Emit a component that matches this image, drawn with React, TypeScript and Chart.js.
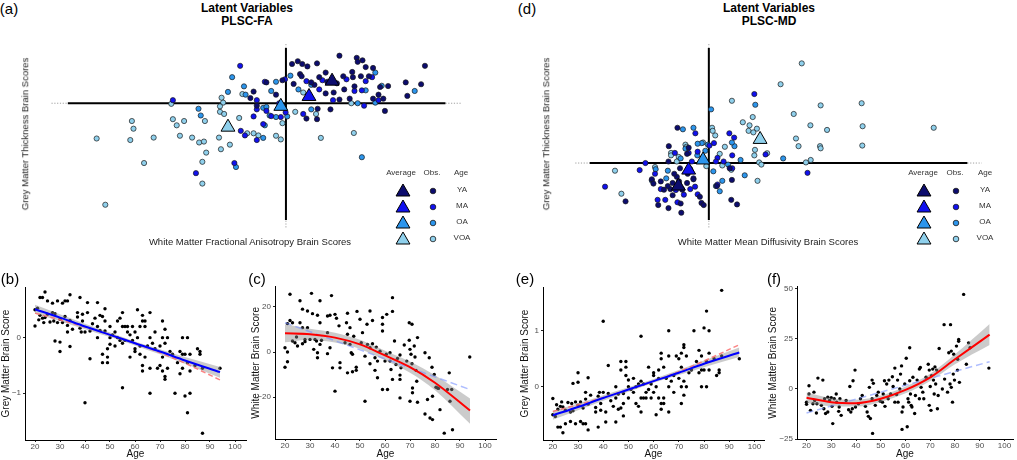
import React, { useEffect, useRef } from "react";
import { Chart, registerables } from "chart.js";

Chart.register(...registerables);

type P = [number, number];
const FONT = "'Liberation Sans', Arial, Helvetica, sans-serif";

const groupNames = ["YA", "MA", "OA", "VOA"];
const groupColors = ["#0c0c6e", "#1111ee", "#2c95ec", "#8fd0ec"];

// ---------- Panel (a): PLSC-FA latent variables ----------
const faYA: P[] = [[1.67,1.55],[2.21,1.48],[2.39,1.40],[2.24,1.35],[4.34,1.22],[0.97,1.30],[0.19,1.28],[0.37,1.37],[0.51,1.28],[0.67,1.20],[2.07,1.02],[1.79,0.88],[2.09,0.85],[2.34,0.88],[2.59,0.88],[2.72,1.15],[2.49,1.18],[0.44,0.95],[0.49,0.88],[1.24,1.00],[1.04,0.85],[1.29,0.70],[0.89,0.60],[0.79,0.68],[0.24,0.63],[1.59,0.65],[1.82,0.45],[2.14,0.55],[2.94,0.53],[3.19,0.56],[3.74,0.68],[4.22,0.62],[3.79,0.24],[2.89,0.28],[2.72,0.15],[3.04,0.15],[3.09,-0.25],[1.39,-0.20],[0.99,-0.18],[0.97,-0.52],[-0.61,0.68],[-1.01,0.38],[-1.11,0.17],[-0.91,-0.08],[-0.11,0.75],[-0.31,0.28],[1.24,0.32],[1.49,0.35],[1.67,0.12],[1.99,0.15],[0.64,-0.50]];
const faMA: P[] = [[-1.43,1.22],[-3.53,0.10],[-0.03,0.78],[-0.66,0.70],[0.64,0.72],[1.14,0.75],[2.49,0.72],[1.89,0.78],[2.37,0.42],[2.14,0.40],[-0.91,-0.20],[-0.91,0.10],[-0.61,-0.25],[-0.21,0.00],[-0.46,-0.42],[-1.01,-0.43],[-0.71,-0.68],[-1.41,-0.90],[-1.28,-1.05],[-0.91,-1.20],[-2.81,-2.28],[-1.61,-1.95],[-0.16,-0.45],[-0.01,-0.30],[0.54,-0.35],[2.44,-0.08],[2.89,0.10],[1.04,0.45],[2.69,0.85],[1.47,0.10]];
const faOA: P[] = [[-1.68,0.85],[-1.81,0.37],[-1.31,0.55],[-1.26,0.28],[-0.31,0.70],[-0.46,0.40],[0.14,0.90],[0.39,0.45],[0.79,0.60],[2.79,1.00],[2.99,0.57],[4.02,0.40],[2.49,0.42],[2.79,0.02],[2.24,0.00],[-0.71,-0.15],[-0.51,-0.40],[-0.31,-0.45],[0.04,-0.43],[-0.66,-0.72],[-0.71,-1.13],[0.79,-0.20],[2.37,-1.76],[-2.73,-0.18],[-2.66,-0.40],[-1.56,-2.08],[-0.61,-0.12]];
const faVOA: P[] = [[-3.58,-0.02],[-2.01,0.18],[-1.96,0.02],[-2.06,-0.28],[-1.93,-0.35],[-3.53,-0.52],[-3.18,-0.58],[-3.41,-0.72],[-2.53,-0.58],[-4.81,-0.58],[-4.76,-0.83],[-5.91,-1.15],[-4.86,-1.20],[-4.13,-1.12],[-3.31,-1.06],[-2.93,-1.12],[-2.71,-1.28],[-2.56,-1.25],[-2.09,-1.12],[-1.75,-1.35],[-2.03,-1.50],[-2.49,-1.61],[-2.61,-1.91],[-4.43,-1.95],[-2.61,-2.62],[-5.64,-3.31],[-1.46,-0.48],[-1.21,-0.98],[-1.01,-0.98],[-0.86,-1.05],[-0.31,-1.06],[-0.16,-1.18],[1.09,-1.13],[2.12,-0.97],[0.29,-0.28],[0.54,0.35],[0.94,-0.35],[2.04,0.00],[-0.11,-0.65],[-1.36,0.30],[-2.06,-0.10]];
const faAvg: P[] = [[1.44,0.72],[0.72,0.22],[-0.16,-0.10],[-1.81,-0.78]];
const faAxisX = [-6.81, 4.98];
const faAxisXDot = [-7.32, 5.49];
const faAxisY = [-3.81, 1.80];
const faAxisYDot = [-4.05, 1.98];

// ---------- Panel (d): PLSC-MD latent variables ----------
const mdYA: P[] = [[-0.98,1.15],[-1.25,0.55],[-0.68,0.30],[-1.26,0.05],[-0.90,-0.17],[-0.66,-0.35],[-0.48,-0.53],[-1.78,-0.53],[-1.73,-0.67],[-1.50,-0.60],[-1.13,-0.65],[-1.00,-0.45],[-1.20,-0.85],[-1.28,-0.75],[-0.83,-0.87],[-1.40,-0.87],[-1.13,-1.05],[-1.58,-1.37],[-1.26,-1.47],[-0.88,-1.32],[-0.86,-1.62],[-2.60,-1.25],[-0.23,-1.30],[-0.16,-1.37],[0.70,-1.20],[0.88,-1.35],[0.72,-0.55],[0.25,-0.75],[0.65,-0.17],[-0.28,-1.10],[-0.68,-0.65],[-0.63,0.50],[-0.93,-0.60],[-1.08,-0.35]];
const mdMA: P[] = [[1.42,2.25],[-0.42,0.97],[-0.63,0.33],[-0.35,0.37],[0.16,0.65],[0.64,0.97],[0.79,0.83],[0.46,0.05],[0.27,0.17],[0.73,0.25],[-1.06,0.33],[-0.53,0.05],[-1.68,-0.35],[-1.98,0.00],[-2.16,-0.23],[-3.24,-0.77],[-1.50,-0.85],[-1.03,-0.88],[-0.78,-1.03],[-0.48,-0.50],[-0.58,-0.85],[-1.60,-1.20],[-1.36,-1.20],[-0.98,-1.28],[3.08,-0.32],[1.77,0.28],[0.02,0.57],[0.22,0.05],[-0.43,-0.77],[-0.35,-1.02],[0.27,-0.70],[0.73,-0.17]];
const mdOA: P[] = [[0.07,1.75],[-0.81,1.10],[-0.48,1.15],[-0.22,0.65],[-0.35,0.63],[-0.11,0.40],[-0.73,0.47],[-0.88,0.15],[-1.28,-0.25],[-1.66,-0.20],[-1.78,-0.57],[-1.33,-0.50],[0.14,-0.27],[0.80,0.55],[0.72,0.67],[0.99,0.10],[1.12,-0.40],[0.34,-0.92],[0.22,-0.75],[0.42,-0.58],[1.45,1.90],[2.32,0.15],[0.60,-0.05],[-0.58,-0.20],[-0.36,0.25],[-0.03,0.60]];
const mdVOA: P[] = [[2.90,3.25],[2.24,2.57],[0.72,2.03],[3.49,1.88],[4.77,1.95],[2.65,1.60],[3.17,1.23],[3.69,1.08],[4.80,1.20],[7.02,1.15],[1.06,1.33],[1.27,1.23],[1.37,1.50],[1.50,1.12],[1.24,1.05],[1.39,1.00],[2.72,0.80],[2.80,0.55],[3.47,0.55],[3.49,0.48],[4.79,0.57],[3.18,0.10],[3.03,0.02],[1.57,0.02],[1.64,-0.05],[1.52,-0.58],[1.42,0.25],[1.44,0.43],[1.82,0.32],[0.10,1.15],[0.20,0.90],[0.12,1.05],[0.50,0.53],[0.34,0.30],[-0.18,0.67],[-0.73,0.60],[-0.70,0.53],[-1.18,0.33],[-1.18,0.25],[-0.94,0.20],[-1.00,0.05],[-1.68,-0.13],[-2.93,-0.25],[-2.73,-1.00],[-0.08,-0.10],[0.42,-0.08],[0.70,-0.22]];
const mdAvg: P[] = [[-0.95,-0.75],[-0.63,-0.23],[-0.18,0.10],[1.60,0.77]];
const mdAxisX = [-3.72, 8.07];
const mdAxisXDot = [-4.17, 8.52];
const mdAxisY = [-1.86, 3.75];
const mdAxisYDot = [-2.10, 3.93];

// ---------- Bottom panels: brain scores by age ----------
const ageTicks = [20, 30, 40, 50, 60, 70, 80, 90, 100];
const fitAges = [20, 30, 40, 50, 60, 70, 80, 94];
const linAges = [20, 94];

// (b) grey matter score, PLSC-FA
const gmFA: P[] = [[20,0.5],[20,0.21],[21,0.53],[21.5,0.32],[22,0.72],[22,0.4],[23,0.72],[23,0.35],[23.5,0.27],[24,0.82],[24,0.36],[25,0.66],[25,0.42],[26,0.28],[27,0.62],[27,0.45],[27.5,0.3],[28,-0.06],[28,0.43],[29,0.66],[29,0.27],[30,0.33],[30,-0.08],[30,-0.25],[31,0.62],[31,0.27],[32,0.66],[32,0.38],[33,0.66],[33,0.22],[33,0.1],[34,0.77],[34,0.31],[34,-0.16],[35,0.15],[37,0.45],[37,0.37],[38,0.72],[38,0.17],[38.5,0.1],[39,0.3],[39,0.42],[40,0.1],[40,-1.17],[41,0.63],[41,0.45],[42,0.12],[42,-0.38],[43,0.25],[44,0.35],[45,0.63],[45,0.2],[45,0.0],[46,0.4],[46,0.13],[47,0.38],[47,-0.3],[47,-0.45],[48,0.52],[48,0.3],[48,0.12],[49,-0.2],[49,-0.35],[49,-0.45],[50,0.0],[50,0.2],[50,-0.12],[51,0.05],[52,0.1],[52,-0.15],[53,0.3],[53,0.0],[54,0.35],[54,-0.05],[55,0.45],[55,0.2],[55,-0.1],[55,-0.9],[56,0.2],[56,-0.05],[57,0.2],[57,0.1],[58,0.05],[58,-0.35],[59,0.2],[59,-0.05],[60,0.1],[60,-0.2],[60,-0.25],[61,0.5],[61,0.0],[62,0.2],[62,-0.15],[62,-0.3],[63,0.4],[63,0.3],[63,-0.5],[63,-0.6],[64,0.3],[64,0.2],[64,-0.35],[65,-0.15],[66,0.45],[66,-0.55],[66,-1.0],[66,0.0],[67,-0.1],[68,0.1],[68,-0.2],[69,-0.55],[70,-0.15],[70,-0.5],[71,0.3],[71,0.0],[71,-0.35],[71,-0.6],[72,0.15],[72,-0.1],[72,-0.7],[72,-0.75],[73,0.0],[73,-0.55],[74,-0.25],[75,-0.3],[76,-1.0],[77,-0.45],[78,-0.25],[78,-0.65],[79,0.0],[79,-0.3],[79,-0.55],[80,-1.05],[80,-0.3],[81,0.0],[81,-1.35],[81,-0.45],[82,-0.3],[82,-0.6],[82,-1.0],[84,-0.5],[85,-0.2],[86,-0.25],[86,-0.3],[87,-1.72],[87,-0.55],[94,-0.55]];
const gmFALinear = [0.51, 0.36, 0.20, 0.05, -0.10, -0.25, -0.41, -0.62];
const gmFAQuad = [0.44, 0.32, 0.19, 0.05, -0.10, -0.27, -0.46, -0.76];
const gmFABandHi = [0.59, 0.42, 0.25, 0.09, -0.07, -0.21, -0.35, -0.53];
const gmFABandLo = [0.43, 0.30, 0.15, 0.01, -0.14, -0.30, -0.47, -0.72];

// (c) white matter score, PLSC-FA
const wmFA: P[] = [[20,1.9],[20,-6.7],[21,0],[21,-4.3],[21,12.6],[22,25.6],[22,14],[23,13],[23,4.9],[24,4.1],[24.6,6.7],[25,2.7],[26,22.7],[26,13],[27,19],[27,10.8],[27,3.7],[28,4.6],[28,5.6],[29,18.2],[29,10.8],[30,5.6],[30.6,26],[31,17],[31.5,1.2],[32,5.6],[32.6,4.9],[33,-0.3],[33,-2.5],[33,16.3],[34,22.7],[34,13],[34,3.4],[34.6,5.2],[37,16],[37,-0.7],[37,8.6],[38,16.3],[38,1.9],[38.6,25],[39,-7],[40,16.7],[40,-17.3],[40.6,15],[41.6,11.6],[42,-4.7],[42,-7],[44,4.1],[44.6,13],[45,-9.2],[45,17.2],[45,7.9],[46,10.8],[46,3.4],[46.5,-0.3],[47,-8.7],[47,-1],[47.5,7],[48.5,-6.7],[48.5,-8.1],[48.8,18],[50,14.5],[50.5,4.1],[51,8.6],[52,-1.8],[52,-21.8],[52.8,12.3],[53,3.4],[54,18.2],[54,1.9],[54,-5.2],[55,14],[55,3.7],[56,-2.5],[56,-8.1],[56.5,2.2],[57,-11.4],[57,-4],[58,0.4],[59,9.3],[59,12.3],[59,15.3],[59,-16.6],[60,-4],[60.5,-1],[60.7,16.7],[61,-16.6],[62,-0.3],[62,-4],[62.4,-7.7],[63,18],[63,24.1],[63,-12.1],[63.8,4.9],[64.4,-5.5],[65,-2.8],[66,-1.3],[66,-10.2],[66,-12.1],[66,-20.3],[66.4,-7],[67.7,3.1],[68.7,-4],[69.7,13],[69.7,5.2],[70,1.2],[70,-21.8],[70.4,-1],[70.8,12.3],[70.8,-5.2],[71,-15.9],[71,-18],[71.7,2.7],[72,-2.2],[72.4,-8.1],[72.7,-12.9],[73,6.4],[73,-22.2],[76,-0.3],[76,-27.4],[77,-21],[77.7,-2.5],[78,-29.2],[78.8,-6.7],[79,-29.9],[79,-19.6],[79.7,-9.9],[80.4,-15.6],[81,-15.9],[81.4,-16.1],[82,-25.5],[83.7,-35.9],[85,-16.6],[85.7,-9.2],[86,-21.8],[86.7,-16.6],[87,-34.4],[93.9,-2.2]];
const wmFAQuad = [8.3, 7.9, 6.4, 3.4, -1.5, -6.7, -13.6, -25.9];
const wmFABandHi = [12.3, 10.3, 8.6, 5.4, 0.6, -4.2, -10.3, -20.6];
const wmFABandLo = [4.3, 5.5, 4.2, 1.4, -3.6, -9.2, -16.9, -31.8];
const wmFALinear = [13.0, -16.6];

// (e) grey matter score, PLSC-MD
const gmMD: P[] = [[20,-0.5],[20,-0.21],[21,-0.53],[21.5,-0.32],[22,-0.72],[22,-0.4],[23,-0.72],[23,-0.35],[23.5,-0.27],[24,-0.82],[24,-0.36],[25,-0.66],[25,-0.42],[26,-0.28],[27,-0.62],[27,-0.45],[27.5,-0.3],[28,0.06],[28,-0.43],[29,-0.66],[29,-0.27],[30,-0.33],[30,0.08],[30,0.25],[31,-0.62],[31,-0.27],[32,-0.66],[32,-0.38],[33,-0.66],[33,-0.22],[33,-0.1],[34,-0.77],[34,-0.31],[34,0.16],[35,-0.15],[37,-0.45],[37,-0.37],[38,-0.72],[38,-0.17],[38.5,-0.1],[39,-0.3],[39,-0.42],[40,-0.1],[40,1.17],[41,-0.63],[41,-0.45],[42,-0.12],[42,0.38],[43,-0.25],[44,-0.35],[45,-0.63],[45,-0.2],[45,0.0],[46,-0.4],[46,-0.13],[47,-0.38],[47,0.3],[47,0.45],[48,-0.52],[48,-0.3],[48,-0.12],[49,0.2],[49,0.35],[49,0.45],[50,0.0],[50,-0.2],[50,0.12],[51,-0.05],[52,-0.1],[52,0.15],[53,-0.3],[53,0.0],[54,-0.35],[54,0.05],[55,-0.45],[55,-0.2],[55,0.1],[55,0.9],[56,-0.2],[56,0.05],[57,-0.2],[57,-0.1],[58,-0.05],[58,0.35],[59,-0.2],[59,0.05],[60,-0.1],[60,0.2],[60,0.25],[61,-0.5],[61,0.0],[62,-0.2],[62,0.15],[62,0.3],[63,-0.4],[63,-0.3],[63,0.5],[63,0.6],[64,-0.3],[64,-0.2],[64,0.35],[65,0.15],[66,-0.45],[66,0.55],[66,1.0],[66,0.0],[67,0.1],[68,-0.1],[68,0.2],[69,0.55],[70,0.15],[70,0.5],[71,-0.3],[71,0.0],[71,0.35],[71,0.6],[72,-0.15],[72,0.1],[72,0.7],[72,0.75],[73,0.0],[73,0.55],[74,0.25],[75,0.3],[76,1.0],[77,0.45],[78,0.25],[78,0.65],[79,0.0],[79,0.3],[79,0.55],[80,1.05],[80,0.3],[81,0.0],[81,1.35],[81,0.45],[82,0.3],[82,0.6],[82,1.0],[84,0.5],[85,0.2],[86,0.25],[86,0.3],[87,1.72],[87,0.55],[94,0.5]];
const gmMDLinear = [-0.51, -0.36, -0.20, -0.05, 0.10, 0.25, 0.41, 0.61];
const gmMDQuad = [-0.44, -0.32, -0.19, -0.05, 0.10, 0.27, 0.46, 0.75];
const gmMDBandHi = [-0.43, -0.30, -0.15, -0.01, 0.14, 0.30, 0.47, 0.70];
const gmMDBandLo = [-0.59, -0.42, -0.25, -0.09, 0.07, 0.21, 0.35, 0.53];

// (f) white matter score, PLSC-MD
const wmMD: P[] = [[20,-6.6],[20,-7.7],[21,1.6],[21,-2.5],[21.6,-10.7],[22.6,-7.4],[23,-1.6],[23.3,-5.8],[24,-12],[24.2,-7.4],[24.6,5.4],[26,-8.2],[26.6,4.4],[27,-9.9],[27.3,-4.9],[27.7,-12.3],[28.6,-4.1],[28.6,-11.5],[29.3,-5.8],[30,-4.4],[30.3,-8.7],[30.6,-17.3],[31.2,-4.9],[32,-2.5],[32.2,-6.6],[33,-11.2],[33.2,-9],[33.5,-4.9],[34,-13.2],[36,-5.8],[37,-10.4],[37.5,1.2],[37.9,-11.5],[38.5,-9.9],[38.8,4.1],[39.6,9.4],[39.8,-9],[41,-7.4],[41.8,-4.9],[42.5,-3.3],[43.8,-8.7],[44.5,-11.5],[45,-13.7],[45.4,0.8],[45.8,-14.8],[46.5,4.4],[46.5,-4.9],[46.7,-22.2],[47,2.8],[47.8,-8.2],[48.4,-3.3],[49,-1.6],[49.8,-6.1],[50.7,-6.6],[51,-2.5],[51.5,4.1],[51.7,-8.7],[52.4,2.5],[53,-4.9],[53.3,4.4],[54,-2.5],[54.7,6.1],[55,1.2],[55.7,10.4],[55.7,-6.6],[56.4,-2.8],[56.8,4.4],[57,-6.6],[57.7,0],[58,7.4],[58.4,11.5],[58.6,-11.5],[58.6,-20.2],[59,-9],[59.7,2.5],[60.3,15.3],[60.7,-18.9],[61,-4.9],[61.3,-6.6],[61.7,20.6],[61.7,4.1],[62,-2.5],[62.3,-8.2],[62.6,-9],[63,5.8],[63.7,-12.3],[64,-3.3],[64.7,4.4],[65.6,9.9],[65.6,-4.9],[66,10.7],[66.3,0.8],[67,-1.6],[67.4,-4.9],[68.3,5.8],[69.2,12.3],[69.6,9.4],[69.6,-8.2],[70,1.2],[70.3,-10.7],[70.5,6.6],[71,9.9],[71.3,4.4],[71.6,-2.5],[71.9,11],[72.2,2.5],[72.6,9.4],[72.9,-9.9],[73.2,-3.3],[73.6,20.2],[74.9,0],[75.6,32.1],[75.8,4.9],[77,-1.6],[77.5,18.1],[78,2.5],[78.2,32.1],[78.5,18.9],[78.5,0.8],[79,-6.6],[79.3,7.4],[79.5,17.3],[79.8,4.4],[80.6,21.4],[81,9.4],[81.1,14.8],[81.5,24.7],[81.5,23.8],[81.8,3.3],[83.5,47.2],[84.6,12.3],[85.5,23],[86.1,20.6],[93.7,10.4]];
const wmMDQuad = [-4.4, -6.6, -7.1, -4.9, -0.5, 5.8, 14.8, 27.1];
const wmMDBandHi = [-1.8, -4.6, -5.4, -3.3, 1.2, 7.6, 17.3, 32.4];
const wmMDBandLo = [-7.0, -8.6, -8.8, -6.5, -2.2, 4.0, 12.3, 21.9];
const wmMDLinear = [-12.0, 13.6];

const toXY = (xs: number[], ys: number[]) => xs.map((x, i) => ({ x, y: ys[i] }));
const ptsXY = (ps: P[]) => ps.map(([x, y]) => ({ x, y }));

function triPath(ctx: CanvasRenderingContext2D, x: number, y: number, r: number) {
  const s = Math.sin(Math.PI / 3) * r;
  ctx.beginPath();
  ctx.moveTo(x, y - r);
  ctx.lineTo(x + s, y + r / 2);
  ctx.lineTo(x - s, y + r / 2);
  ctx.closePath();
}

function quadrantChart(
  canvas: HTMLCanvasElement,
  groups: P[][],
  avgs: P[],
  range: number[],
  axX: number[], axXDot: number[], axY: number[], axYDot: number[],
  legend: { avgX: number; obsX: number; rows: number[] }
) {
  const quad = {
    id: "quad",
    beforeDatasetsDraw(chart: any) {
      const { ctx, scales } = chart;
      const xs = scales.x, ys = scales.y;
      const x0 = xs.getPixelForValue(0), y0 = ys.getPixelForValue(0);
      ctx.save();
      ctx.strokeStyle = "#a0a0a0";
      ctx.lineWidth = 1;
      ctx.setLineDash([1.2, 1.6]);
      ctx.beginPath();
      ctx.moveTo(xs.getPixelForValue(axXDot[0]), y0);
      ctx.lineTo(xs.getPixelForValue(axX[0]), y0);
      ctx.moveTo(xs.getPixelForValue(axX[1]), y0);
      ctx.lineTo(xs.getPixelForValue(axXDot[1]), y0);
      ctx.moveTo(x0, ys.getPixelForValue(axYDot[0]));
      ctx.lineTo(x0, ys.getPixelForValue(axY[0]));
      ctx.moveTo(x0, ys.getPixelForValue(axY[1]));
      ctx.lineTo(x0, ys.getPixelForValue(axYDot[1]));
      ctx.stroke();
      ctx.setLineDash([]);
      ctx.strokeStyle = "#000";
      ctx.lineWidth = 2;
      ctx.beginPath();
      ctx.moveTo(xs.getPixelForValue(axX[0]), y0);
      ctx.lineTo(xs.getPixelForValue(axX[1]), y0);
      ctx.moveTo(x0, ys.getPixelForValue(axY[0]));
      ctx.lineTo(x0, ys.getPixelForValue(axY[1]));
      ctx.stroke();
      ctx.restore();
    },
    afterDraw(chart: any) {
      const ctx: CanvasRenderingContext2D = chart.ctx;
      ctx.save();
      legend.rows.forEach((ry, i) => {
        triPath(ctx, legend.avgX, ry + 1, 8);
        ctx.fillStyle = groupColors[i];
        ctx.fill();
        ctx.strokeStyle = "#000";
        ctx.lineWidth = 1;
        ctx.stroke();
        ctx.beginPath();
        ctx.arc(legend.obsX, ry, 2.8, 0, Math.PI * 2);
        ctx.fillStyle = groupColors[i];
        ctx.fill();
        ctx.strokeStyle = "#1a1a1a";
        ctx.lineWidth = 0.8;
        ctx.stroke();
      });
      ctx.restore();
    },
  };
  const order = [1, 2, 3, 4];
  const datasets: any[] = groups.map((g, i) => ({
    label: groupNames[i],
    data: ptsXY(g),
    pointRadius: 2.6,
    pointBackgroundColor: groupColors[i],
    pointBorderColor: "#1a1a1a",
    pointBorderWidth: 0.7,
    order: order[i],
  }));
  datasets.push({
    label: "Average",
    data: ptsXY(avgs),
    pointStyle: "triangle",
    pointRadius: 8,
    pointBackgroundColor: groupColors,
    pointBorderColor: "#000",
    pointBorderWidth: 1,
    order: 0,
  });
  return new Chart(canvas, {
    type: "scatter",
    data: { datasets },
    options: {
      animation: false,
      responsive: false,
      events: [],
      layout: { padding: 0 },
      plugins: { legend: { display: false }, tooltip: { enabled: false } },
      scales: {
        x: { type: "linear", display: false, min: range[0], max: range[1] },
        y: { type: "linear", display: false, min: range[2], max: range[3] },
      },
    },
    plugins: [quad],
  } as any);
}

interface AgeCfg {
  points: P[];
  solid: { x: number[]; y: number[]; color: string };
  dashed: { x: number[]; y: number[]; color: string; dash: number[] };
  bandHi: number[];
  bandLo: number[];
  xRange: number[];
  yRange: number[];
  yTicks: number[];
  yTitle: string;
  yAxisW: number;
  xAxisH: number;
  padTop: number;
  padRight: number;
  yTitlePad: number;
}

const fmt = (v: number) => (v < 0 ? "\u2212" + Math.abs(v) : String(v));

function ageChart(canvas: HTMLCanvasElement, c: AgeCfg) {
  const datasets: any[] = [
    {
      type: "line", data: toXY(c.solid.x, c.solid.y), borderColor: c.solid.color, borderWidth: 2,
      pointRadius: 0, fill: false, cubicInterpolationMode: "monotone", order: 0,
    },
    {
      type: "line", data: toXY(c.dashed.x, c.dashed.y), borderColor: c.dashed.color, borderWidth: 1.5,
      borderDash: c.dashed.dash, pointRadius: 0, fill: false, cubicInterpolationMode: "monotone", order: 1,
    },
    {
      type: "line", data: toXY(fitAges, c.bandHi), borderColor: "rgba(0,0,0,0)", borderWidth: 0,
      pointRadius: 0, fill: "+1", backgroundColor: "rgba(140,140,140,0.45)", cubicInterpolationMode: "monotone", order: 2,
    },
    {
      type: "line", data: toXY(fitAges, c.bandLo), borderColor: "rgba(0,0,0,0)", borderWidth: 0,
      pointRadius: 0, fill: false, cubicInterpolationMode: "monotone", order: 3,
    },
    {
      type: "scatter", data: ptsXY(c.points), pointRadius: 1.7, pointBackgroundColor: "#000",
      pointBorderWidth: 0, order: 4,
    },
  ];
  const axisCommon = {
    grid: { display: true, drawOnChartArea: false, drawTicks: true, tickLength: 2, color: "#222", lineWidth: 1 },
    border: { display: true, color: "#000", width: 1 },
  };
  return new Chart(canvas, {
    type: "scatter",
    data: { datasets },
    options: {
      animation: false,
      responsive: false,
      events: [],
      layout: { padding: { top: c.padTop, right: c.padRight, left: 0, bottom: 0 } },
      plugins: { legend: { display: false }, tooltip: { enabled: false } },
      scales: {
        x: {
          type: "linear", min: c.xRange[0], max: c.xRange[1], ...axisCommon,
          afterBuildTicks: (s: any) => { s.ticks = ageTicks.map((v) => ({ value: v })); },
          afterFit: (s: any) => { s.height = c.xAxisH; },
          ticks: { font: { family: FONT, size: 8 }, color: "#4d4d4d", padding: 0, maxRotation: 0, minRotation: 0, autoSkip: false, callback: (v: any) => fmt(Number(v)) },
          title: { display: true, text: "Age", font: { family: FONT, size: 10 }, color: "#111", padding: { top: 0, bottom: 0 } },
        },
        y: {
          type: "linear", min: c.yRange[0], max: c.yRange[1], ...axisCommon,
          afterBuildTicks: (s: any) => { s.ticks = c.yTicks.map((v) => ({ value: v })); },
          afterFit: (s: any) => { s.width = c.yAxisW; },
          ticks: { font: { family: FONT, size: 8 }, color: "#4d4d4d", padding: 2, autoSkip: false, callback: (v: any) => fmt(Number(v)) },
          title: { display: true, text: c.yTitle, font: { family: FONT, size: 10 }, color: "#111", padding: { top: c.yTitlePad, bottom: 0 } },
        },
      },
    },
  } as any);
}

const redSolid = "#ff0000";
const blueSolid = "#0000ff";
const redDash = "rgba(250,110,110,0.85)";
const blueDash = "rgba(120,145,255,0.6)";

function Txt(props: { x: number; y: number; s: number; t: string; bold?: boolean; rot?: boolean; color?: string }) {
  const { x, y, s, t, bold, rot, color } = props;
  return (
    <div
      style={{
        position: "absolute", left: x, top: y,
        transform: `translate(-50%,-50%)${rot ? " rotate(-90deg)" : ""}`,
        fontSize: s, fontWeight: bold ? 700 : 400, color: color || "#000",
        whiteSpace: "nowrap", lineHeight: 1, fontFamily: FONT,
      }}
    >
      {t}
    </div>
  );
}

export default function App() {
  const ra = useRef<HTMLCanvasElement>(null);
  const rd = useRef<HTMLCanvasElement>(null);
  const rb = useRef<HTMLCanvasElement>(null);
  const rc = useRef<HTMLCanvasElement>(null);
  const re = useRef<HTMLCanvasElement>(null);
  const rf = useRef<HTMLCanvasElement>(null);

  useEffect(() => {
    const charts: Chart[] = [];
    charts.push(quadrantChart(ra.current!, [faYA, faMA, faOA, faVOA], faAvg, [-7.71, 6.09, -4.59, 2.16],
      faAxisX, faAxisXDot, faAxisY, faAxisYDot, { avgX: 373, obsX: 403, rows: [163, 179, 195, 211] }));
    charts.push(quadrantChart(rd.current!, [mdYA, mdMA, mdOA, mdVOA], mdAvg, [-4.74, 9.12, -2.64, 4.11],
      mdAxisX, mdAxisXDot, mdAxisY, mdAxisYDot, { avgX: 376, obsX: 408, rows: [163, 179, 195, 211] }));
    charts.push(ageChart(rb.current!, {
      points: gmFA,
      solid: { x: fitAges, y: gmFALinear, color: blueSolid },
      dashed: { x: fitAges, y: gmFAQuad, color: redDash, dash: [5, 3] },
      bandHi: gmFABandHi, bandLo: gmFABandLo,
      xRange: [16, 104.4], yRange: [-1.84, 0.91], yTicks: [-1, 0], yTitle: "Grey Matter Brain Score",
      yAxisW: 25, xAxisH: 20, padTop: 7, padRight: 3, yTitlePad: 0,
    }));
    charts.push(ageChart(rc.current!, {
      points: wmFA,
      solid: { x: fitAges, y: wmFAQuad, color: redSolid },
      dashed: { x: linAges, y: wmFALinear, color: blueDash, dash: [7, 4] },
      bandHi: wmFABandHi, bandLo: wmFABandLo,
      xRange: [16, 104.4], yRange: [-38.5, 28.9], yTicks: [-20, 0, 20], yTitle: "White Matter Brain Score",
      yAxisW: 25, xAxisH: 21, padTop: 5, padRight: 3, yTitlePad: 0,
    }));
    charts.push(ageChart(re.current!, {
      points: gmMD,
      solid: { x: fitAges, y: gmMDLinear, color: blueSolid },
      dashed: { x: fitAges, y: gmMDQuad, color: redDash, dash: [5, 3] },
      bandHi: gmMDBandHi, bandLo: gmMDBandLo,
      xRange: [16.1, 103.8], yRange: [-0.95, 1.78], yTicks: [0, 1], yTitle: "Grey Matter Brain Score",
      yAxisW: 33, xAxisH: 20, padTop: 7, padRight: 0, yTitlePad: 9,
    }));
    charts.push(ageChart(rf.current!, {
      points: wmMD,
      solid: { x: fitAges, y: wmMDQuad, color: redSolid },
      dashed: { x: linAges, y: wmMDLinear, color: blueDash, dash: [7, 4] },
      bandHi: wmMDBandHi, bandLo: wmMDBandLo,
      xRange: [16.15, 103.45], yRange: [-25, 51], yTicks: [-25, 0, 25, 50], yTitle: "White Matter Brain Score",
      yAxisW: 32, xAxisH: 21, padTop: 5, padRight: 0, yTitlePad: 2,
    }));
    return () => charts.forEach((c) => c.destroy());
  }, []);

  const cv = (left: number, top: number, w: number, h: number) =>
    ({ position: "absolute", left, top, width: w, height: h } as React.CSSProperties);

  return (
    <div style={{ position: "fixed", left: 0, top: 0, width: 1017, height: 460, background: "#fff", overflow: "hidden", fontFamily: FONT }}>
      <canvas ref={ra} width={460} height={225} style={cv(30, 28, 460, 225)} />
      <canvas ref={rd} width={462} height={225} style={cv(548, 28, 462, 225)} />
      <canvas ref={rb} width={250} height={180} style={cv(0, 280, 250, 180)} />
      <canvas ref={rc} width={250} height={180} style={cv(250, 280, 250, 180)} />
      <canvas ref={re} width={258} height={180} style={cv(510, 280, 258, 180)} />
      <canvas ref={rf} width={252} height={180} style={cv(765, 280, 252, 180)} />

      <Txt x={9} y={8} s={15} t="(a)" />
      <Txt x={527} y={8} s={15} t="(d)" />
      <Txt x={10} y={278} s={15} t="(b)" />
      <Txt x={257} y={278} s={15} t="(c)" />
      <Txt x={525} y={278} s={15} t="(e)" />
      <Txt x={774} y={278} s={15} t="(f)" />

      <Txt x={247} y={7.5} s={12} bold t="Latent Variables" />
      <Txt x={247} y={20.5} s={12} bold t="PLSC-FA" />
      <Txt x={769} y={7.5} s={12} bold t="Latent Variables" />
      <Txt x={769} y={20.5} s={12} bold t="PLSC-MD" />

      <Txt x={25} y={134} s={9.5} rot color="#222" t="Grey Matter Thickness Brain Scores" />
      <Txt x={546} y={134} s={9.5} rot color="#222" t="Grey Matter Thickness Brain Scores" />
      <Txt x={250} y={242} s={9.5} color="#222" t="White Matter Fractional Anisotropy Brain Scores" />
      <Txt x={768} y={242} s={9.5} color="#222" t="White Matter Mean Diffusivity Brain Scores" />

      <Txt x={401} y={173} s={8} color="#333" t="Average" />
      <Txt x={432} y={173} s={8} color="#333" t="Obs." />
      <Txt x={461} y={173} s={8} color="#333" t="Age" />
      {groupNames.map((g, i) => (
        <Txt key={"a" + g} x={462} y={190 + i * 16} s={8} color="#333" t={g} />
      ))}
      <Txt x={923} y={173} s={8} color="#333" t="Average" />
      <Txt x={955} y={173} s={8} color="#333" t="Obs." />
      <Txt x={985} y={173} s={8} color="#333" t="Age" />
      {groupNames.map((g, i) => (
        <Txt key={"d" + g} x={985} y={190 + i * 16} s={8} color="#333" t={g} />
      ))}
    </div>
  );
}
